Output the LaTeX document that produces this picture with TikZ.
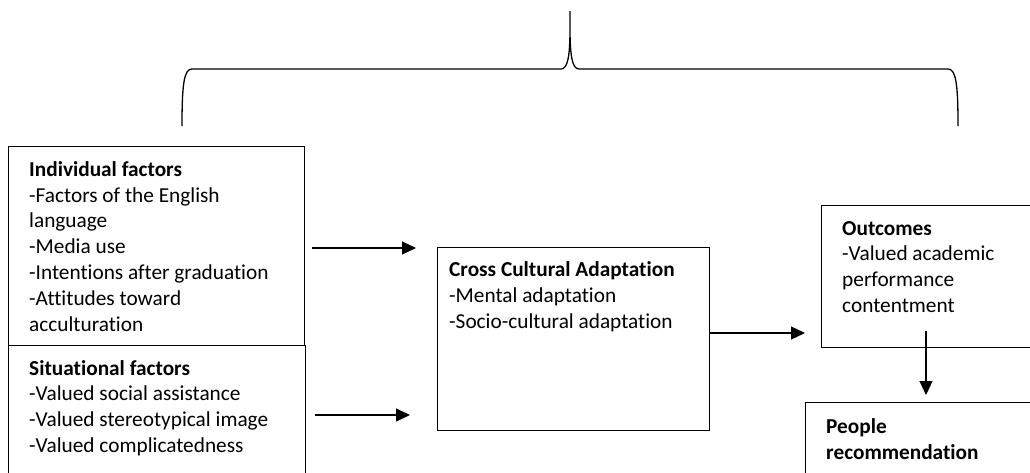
\documentclass[tikz,border=0pt]{standalone}
\usepackage{fontspec}
\setmainfont[Ligatures=NoCommon]{Carlito}
\usetikzlibrary{arrows.meta,calc}
\begin{document}
\begin{tikzpicture}[x=1pt,y=-1pt,
  box/.style={draw, line width=1.1pt, rectangle, inner sep=0pt, anchor=north west},
  % the base anchor of a multi-line node sits on its last line
  txt/.style={anchor=base west, align=left, inner sep=0pt,
    font=\fontsize{21.3}{25.9}\selectfont},
  arr/.style={draw, line width=1.1pt, -{Triangle[length=14pt,width=13pt]}},
  brace/.style={draw, line width=1.3pt}]
\useasboundingbox (0,0) rectangle (1030,472);
\clip (0,0) rectangle (1030,472);

% boxes
\node[box, minimum width=296pt, minimum height=199pt] (ind) at (8,146) {};
\node[box, minimum width=297pt, minimum height=140pt] (sit) at (8,345) {};
\node[box, minimum width=272pt, minimum height=183pt] (cross) at (437,247) {};
\node[box, minimum width=230pt, minimum height=142pt] (out) at (821,205) {};
\node[box, minimum width=240pt, minimum height=90pt] (ppl) at (805,402) {};

% box texts
\node[txt] (indT) at ($(ind.north west)+(21,185.5)$)
  {\textbf{Individual factors}\\-Factors of the English\\language\\-Media use\\-Intentions after graduation\\-Attitudes toward\\acculturation};
\node[txt] (sitT) at ($(sit.north west)+(21,107.7)$)
  {\textbf{Situational factors}\\-Valued social assistance\\-Valued stereotypical image\\-Valued complicatedness};
\node[txt] (crossT) at ($(cross.north west)+(12,81.5)$)
  {\textbf{Cross Cultural Adaptation}\\-Mental adaptation\\-Socio-cultural adaptation};
\node[txt] (outT) at ($(out.north west)+(21,107.7)$)
  {\textbf{Outcomes}\\-Valued academic\\performance\\contentment};
\node[txt] (pplT) at ($(ppl.north west)+(21,57)$)
  {\textbf{People}\\\textbf{recommendation}};

% connectors
\coordinate (a1) at (0,248);
\coordinate (a2) at (0,415);
\coordinate (a3) at (0,333);
\coordinate (a4) at (926,331);
\draw[arr, shorten <=7pt, shorten >=21pt] (ind.east |- a1) -- (cross.west |- a1);
\draw[arr, shorten <=9pt, shorten >=27pt] (sit.east |- a2) -- (cross.west |- a2);
\draw[arr, shorten >=16pt] (cross.east |- a3) -- (out.west |- a3);
\draw[arr, shorten >=7pt] (a4) -- (ppl.north -| a4);

% overarching brace
\coordinate (bl) at (182,126);
\coordinate (bm) at (570,11);
\coordinate (br) at (958,126);
\draw[brace] (bl) .. controls (182,84) and (184,69) .. (192,69)
  -- (561,69) .. controls (568,69) and (570,55) .. (570,28) -- (bm)
  -- (570,28) .. controls (570,55) and (572,69) .. (579,69)
  -- (948,69) .. controls (956,69) and (958,84) .. (br);
\end{tikzpicture}
\end{document}
